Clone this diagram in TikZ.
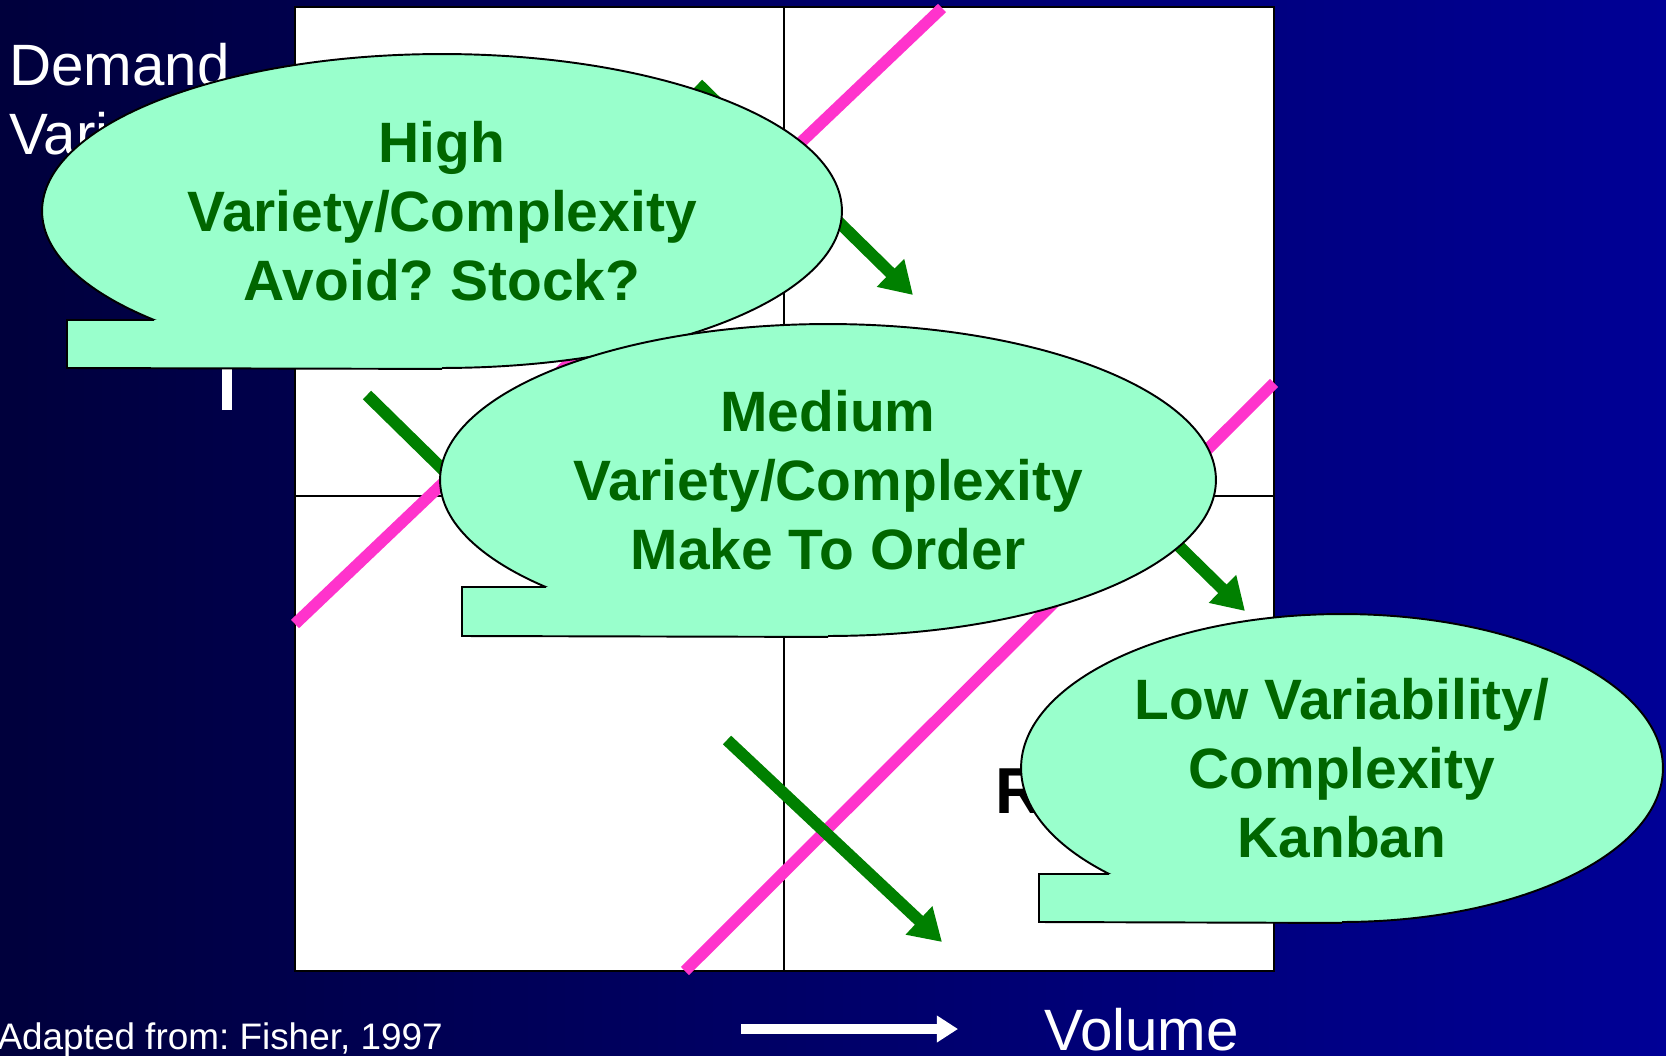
\documentclass[tikz,border=0pt]{standalone}
\usepackage{fontspec}
\setmainfont{Liberation Sans}
\usetikzlibrary{arrows.meta,shapes.geometric,positioning}
\definecolor{slidedark}{RGB}{0,0,60}
\definecolor{slideblue}{RGB}{0,0,150}
\definecolor{mint}{RGB}{153,255,204}
\definecolor{leafgreen}{RGB}{0,128,0}
\definecolor{textgreen}{RGB}{0,102,0}
\definecolor{pinkline}{RGB}{255,51,204}
\frenchspacing

\begin{document}
\begin{tikzpicture}[x=0.02cm,y=-0.02cm,
	callout/.style={ellipse,draw,line width=1.1pt,fill=mint,inner sep=0pt,text=textgreen,align=center,font=\fontsize{32.4}{39.3}\selectfont\bfseries},
	calloutbar/.style={draw,line width=1.1pt},
	flow/.style={draw=leafgreen,line width=6.8pt,-{Triangle[length=18pt,width=21pt]}},
	divider/.style={draw=pinkline,line width=6.6pt},
	axisarrow/.style={draw=white,line width=5.7pt,-{Triangle[length=12pt,width=14.5pt]}},
	whitetext/.style={text=white,font=\fontsize{33.2}{40}\selectfont,inner sep=0pt,anchor=base west}]
			\clip (0,0) rectangle (1666,1055);
			\shade[left color=slidedark,right color=slideblue] (0,0) rectangle (1666,1055);

			% matrix
			\draw[fill=white,line width=1.1pt] (295,7) rectangle (1274,971);
			\draw[line width=0.9pt] (784,7) -- (784,971);
			\draw[line width=0.9pt] (295,496) -- (1274,496);

			\draw[divider] (295,624) -- (942,8);
			\draw[divider] (685,971) -- (1274,383);

			\coordinate (f1s) at (698,84);  \coordinate (f1e) at (913,295);
			\coordinate (f2s) at (367,395); \coordinate (f2e) at (582,606);
			\coordinate (f3s) at (1030,400); \coordinate (f3e) at (1245,611);
			\coordinate (f4s) at (727,740); \coordinate (f4e) at (942,942);
			\draw[flow] (f1s) -- (f1e);
			\draw[flow] (f2s) -- (f2e);
			\draw[flow] (f3s) -- (f3e);
			\draw[flow] (f4s) -- (f4e);

			\node[font=\fontsize{37}{44}\selectfont\bfseries,anchor=base west,inner sep=0pt] (rlabel) at (995,813) {R};

			% axes
			\node[whitetext] (demand) at (9,85) {Demand};
			\node[whitetext] (vari) at (9,154) {Variability};
			\coordinate (dlow) at (227,410); \coordinate (dtop) at (227,230);
			\draw[axisarrow] (dlow) -- (dtop);
			\coordinate (vlow) at (741,1029); \coordinate (vtop) at (958,1029);
			\draw[axisarrow] (vlow) -- (vtop);
			\node[whitetext] (volume) at (1044,1050) {Volume};
			\node[whitetext,anchor=base east,font=\fontsize{21}{25}\selectfont] (source) at (443,1049) {Adapted from: Fisher, 1997};

			% callouts
			\node[callout,minimum width=16cm,minimum height=6.28cm] (high) at (442,211) {High\\Variety/Complexity\\Avoid? Stock?};
			\fill[mint] (67,320) rectangle (high.south);
			\draw[calloutbar] (154,320) -| (67,368) -- (high.south);

			\node[callout,minimum width=15.52cm,minimum height=6.24cm] (medium) at (828,480) {Medium\\Variety/Complexity\\Make To Order};
			\fill[mint] (462,587) rectangle (medium.south);
			\draw[calloutbar] (546,587) -| (462,636) -- (medium.south);

			\node[callout,minimum width=12.84cm,minimum height=6.16cm] (low) at (1342,768) {Low Variability/\\Complexity\\Kanban};
			\fill[mint] (1039,874) rectangle (low.south);
			\draw[calloutbar] (1109,874) -| (1039,922) -- (low.south);
		\end{tikzpicture}
\end{document}
